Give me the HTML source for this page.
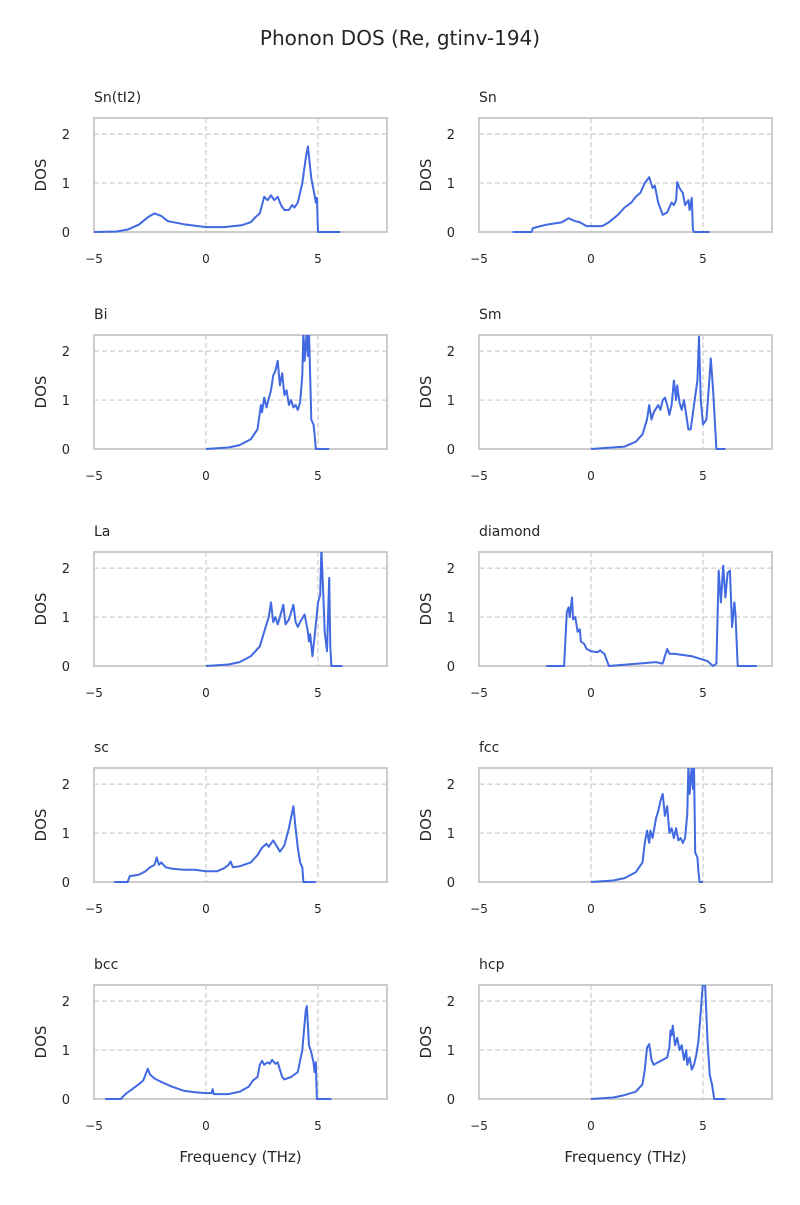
<!DOCTYPE html>
<html><head><meta charset="utf-8"><style>
body{margin:0;background:#fff;font-family:"Liberation Sans","DejaVu Sans",sans-serif;}
svg text{font-family:"DejaVu Sans","Liberation Sans",sans-serif;fill:#262626;}
</style></head><body>
<svg id="fig" width="800" height="1200" viewBox="0 0 800 1200" xmlns="http://www.w3.org/2000/svg">
<rect width="800" height="1200" fill="#fff"/>
<text x="400" y="45" text-anchor="middle" font-size="20">Phonon DOS (Re, gtinv-194)</text>
</svg>
<script>
const titles=["Sn(tI2)","Sn","Bi","Sm","La","diamond","sc","fcc","bcc","hcp"];
const xTicks=[-5,0,5];
const yTicks=[0,1,2];
const sSnTI2=[[-5,0],[-4,0.01],[-3.5,0.05],[-3,0.15],[-2.6,0.3],[-2.3,0.38],[-2,0.33],[-1.7,0.22],[-1,0.16],[0,0.1],[0.8,0.1],[1.6,0.14],[2,0.2],[2.2,0.3],[2.4,0.38],[2.5,0.55],[2.6,0.72],[2.75,0.65],[2.9,0.75],[3.05,0.65],[3.2,0.72],[3.35,0.55],[3.5,0.45],[3.7,0.45],[3.85,0.55],[3.95,0.5],[4.1,0.6],[4.3,1.0],[4.45,1.5],[4.55,1.75],[4.7,1.1],[4.85,0.75],[4.9,0.6],[4.95,0.7],[5.0,0],[6,0]];
const sSn=[[-3.5,0],[-2.65,0],[-2.6,0.08],[-2,0.15],[-1.3,0.2],[-1,0.28],[-0.7,0.22],[-0.5,0.2],[-0.2,0.12],[0.5,0.12],[0.8,0.2],[1.2,0.35],[1.5,0.5],[1.8,0.6],[2.0,0.72],[2.2,0.8],[2.4,1.0],[2.6,1.12],[2.75,0.9],[2.85,0.95],[3.0,0.6],[3.2,0.35],[3.4,0.4],[3.6,0.6],[3.7,0.55],[3.8,0.65],[3.85,1.02],[3.95,0.9],[4.1,0.8],[4.2,0.55],[4.35,0.65],[4.4,0.45],[4.5,0.7],[4.55,0.05],[4.6,0],[5.3,0]];
const sBi=[[0,0],[1,0.03],[1.5,0.08],[2,0.2],[2.3,0.4],[2.45,0.9],[2.5,0.75],[2.6,1.05],[2.7,0.85],[2.9,1.2],[3.0,1.5],[3.1,1.6],[3.2,1.8],[3.3,1.3],[3.4,1.55],[3.5,1.1],[3.6,1.2],[3.7,0.9],[3.8,1.0],[3.9,0.85],[4.0,0.9],[4.1,0.8],[4.2,0.95],[4.3,1.5],[4.35,2.4],[4.4,1.8],[4.5,2.4],[4.55,1.9],[4.6,2.4],[4.7,0.6],[4.8,0.5],[4.85,0.3],[4.9,0],[5.5,0]];
const sSm=[[0,0],[1.5,0.05],[2,0.15],[2.3,0.3],[2.5,0.6],[2.6,0.9],[2.7,0.6],[2.8,0.75],[3.0,0.9],[3.1,0.8],[3.2,1.0],[3.3,1.05],[3.4,0.9],[3.5,0.7],[3.6,0.9],[3.7,1.4],[3.8,1.0],[3.85,1.3],[3.95,0.95],[4.05,0.8],[4.15,1.0],[4.25,0.7],[4.35,0.4],[4.45,0.4],[4.6,0.9],[4.75,1.4],[4.82,2.3],[4.9,1.0],[5.0,0.5],[5.15,0.6],[5.25,1.2],[5.35,1.85],[5.45,1.2],[5.55,0.4],[5.6,0],[6.0,0]];
const sLa=[[0,0],[1,0.03],[1.5,0.08],[2,0.2],[2.4,0.4],[2.6,0.7],[2.8,1.0],[2.9,1.3],[3.0,0.9],[3.1,1.0],[3.2,0.85],[3.3,1.0],[3.45,1.25],[3.55,0.85],[3.7,0.95],[3.9,1.25],[4.0,0.9],[4.1,0.8],[4.2,0.9],[4.4,1.05],[4.55,0.7],[4.6,0.5],[4.65,0.65],[4.75,0.2],[4.85,0.6],[5.0,1.3],[5.1,1.45],[5.15,2.4],[5.25,1.3],[5.3,0.7],[5.4,0.3],[5.5,1.8],[5.55,0.4],[5.6,0],[6.1,0]];
const sDiamond=[[-2.0,0],[-1.2,0],[-1.08,1.1],[-1.0,1.2],[-0.95,1.0],[-0.85,1.4],[-0.8,0.95],[-0.7,1.0],[-0.6,0.7],[-0.5,0.75],[-0.45,0.5],[-0.3,0.45],[-0.2,0.35],[0,0.3],[0.3,0.28],[0.4,0.32],[0.5,0.28],[0.6,0.25],[0.8,0],[2.9,0.08],[3.2,0.05],[3.3,0.2],[3.4,0.35],[3.5,0.25],[3.7,0.25],[4.5,0.2],[5.2,0.1],[5.45,0],[5.6,0.05],[5.7,1.95],[5.8,1.3],[5.9,2.05],[6.0,1.4],[6.1,1.9],[6.2,1.95],[6.3,0.8],[6.4,1.3],[6.45,1.05],[6.55,0],[7.4,0]];
const sSc=[[-4.1,0],[-3.5,0],[-3.4,0.12],[-3,0.15],[-2.7,0.22],[-2.5,0.3],[-2.3,0.35],[-2.2,0.5],[-2.1,0.35],[-2,0.4],[-1.8,0.3],[-1.5,0.27],[-1,0.25],[-0.5,0.25],[0,0.22],[0.5,0.22],[0.8,0.28],[1.0,0.35],[1.1,0.42],[1.2,0.3],[1.5,0.32],[2,0.4],[2.3,0.55],[2.5,0.7],[2.7,0.78],[2.8,0.72],[3.0,0.85],[3.2,0.7],[3.3,0.62],[3.5,0.75],[3.7,1.1],[3.9,1.55],[4.0,1.1],[4.1,0.7],[4.2,0.4],[4.3,0.3],[4.35,0],[4.9,0]];
const sFcc=[[0,0],[1,0.03],[1.5,0.08],[2,0.2],[2.3,0.4],[2.4,0.8],[2.5,1.05],[2.6,0.8],[2.65,1.05],[2.75,0.9],[2.9,1.3],[3.0,1.45],[3.1,1.65],[3.2,1.8],[3.3,1.35],[3.4,1.55],[3.5,1.0],[3.6,1.1],[3.7,0.9],[3.8,1.1],[3.9,0.85],[4.0,0.9],[4.1,0.8],[4.2,0.9],[4.3,1.4],[4.35,2.4],[4.4,1.8],[4.5,2.4],[4.55,1.9],[4.6,2.4],[4.65,0.6],[4.75,0.5],[4.8,0.2],[4.85,0],[5.0,0]];
const sBcc=[[-4.5,0],[-3.8,0],[-3.6,0.1],[-3.3,0.2],[-3.0,0.3],[-2.8,0.38],[-2.7,0.5],[-2.6,0.62],[-2.5,0.5],[-2.3,0.42],[-2,0.35],[-1.5,0.25],[-1,0.17],[-0.5,0.14],[0,0.12],[0.25,0.12],[0.3,0.2],[0.35,0.1],[1,0.1],[1.5,0.15],[1.9,0.25],[2.1,0.38],[2.3,0.45],[2.4,0.7],[2.5,0.78],[2.6,0.7],[2.75,0.75],[2.85,0.72],[2.95,0.8],[3.1,0.72],[3.2,0.75],[3.3,0.6],[3.4,0.45],[3.5,0.4],[3.8,0.45],[4.1,0.55],[4.3,1.0],[4.45,1.8],[4.5,1.9],[4.6,1.1],[4.7,0.95],[4.8,0.75],[4.85,0.55],[4.9,0.75],[4.95,0],[5.6,0]];
const sHcp=[[0,0],[1,0.03],[1.5,0.08],[2,0.15],[2.3,0.3],[2.4,0.6],[2.5,1.05],[2.6,1.12],[2.7,0.8],[2.8,0.7],[3.0,0.75],[3.2,0.8],[3.4,0.85],[3.5,1.05],[3.55,1.4],[3.6,1.3],[3.65,1.5],[3.75,1.1],[3.85,1.25],[3.95,1.0],[4.05,1.1],[4.15,0.8],[4.25,1.0],[4.3,0.7],[4.4,0.85],[4.5,0.6],[4.6,0.7],[4.7,0.9],[4.8,1.2],[4.9,1.8],[5.0,2.4],[5.1,2.3],[5.2,1.2],[5.3,0.5],[5.4,0.3],[5.5,0],[6.0,0]];
const series=[sSnTI2,sSn,sBi,sSm,sLa,sDiamond,sSc,sFcc,sBcc,sHcp];

const NS="http://www.w3.org/2000/svg";
const svg=document.getElementById('fig');
const X0=-5,X1=8.08,Y0=0,Y1=2.33;
const colL=[94,479],W=293,H=114,rowT=[118,335,552,768,985];
function mk(tag,attrs,parent){const e=document.createElementNS(NS,tag);for(const k in attrs)e.setAttribute(k,attrs[k]);(parent||svg).appendChild(e);return e;}
series.forEach((data,i)=>{
  const left=colL[i%2],top=rowT[Math.floor(i/2)];
  const sx=v=>left+(v-X0)/(X1-X0)*W;
  const sy=v=>top+H-(v-Y0)/(Y1-Y0)*H;
  const g=mk('g',{});
  
  
  const cid='clip'+i;
  const cp=mk('clipPath',{id:cid},g);mk('rect',{x:left,y:top,width:W,height:H+2},cp);
  xTicks.forEach(t=>{
    const l=mk('line',{x1:sx(t),x2:sx(t),y1:top,y2:top+H,stroke:'#cccccc','stroke-width':1.2,'stroke-dasharray':'5,3'},g);
    
    
    const tx=mk('text',{x:sx(t),y:top+H+31,'text-anchor':'middle','font-size':12},g);
    tx.textContent=t<0?'\u2212'+Math.abs(t):t;
    
    
  });
  yTicks.forEach(t=>{
    const l=mk('line',{x1:left,x2:left+W,y1:sy(t),y2:sy(t),stroke:'#cccccc','stroke-width':1.2,'stroke-dasharray':'5,3'},g);
    
    
    const tx=mk('text',{x:left-24,y:sy(t)+5,'text-anchor':'end','font-size':13},g);
    tx.textContent=t;
    
    
  });
  const fr=mk('rect',{x:left,y:top,width:W,height:H,fill:'none',stroke:'#cccccc','stroke-width':2},g);
  
  
  const d=data.map((p,j)=>(j?'L':'M')+sx(p[0]).toFixed(1)+','+sy(p[1]).toFixed(1)).join(' ');
  const path=mk('path',{d:d,fill:'none',stroke:'#4169e1','stroke-width':2,'stroke-linejoin':'round','clip-path':'url(#'+cid+')'},g);
  
  
  const tt=mk('text',{x:left,y:top-16,'font-size':14},g);
  tt.textContent=titles[i];
  
  
  const yl=mk('text',{x:0,y:0,'font-size':15,'text-anchor':'middle',transform:'translate('+(left-48)+','+(top+H/2)+') rotate(-90)'},g);
  yl.textContent='DOS';
  
  
  if(i>=8){
    const xl=mk('text',{x:left+W/2,y:top+H+63,'font-size':15,'text-anchor':'middle'},g);
    xl.textContent='Frequency (THz)';
    
    
  }
});
</script>
</body></html>
